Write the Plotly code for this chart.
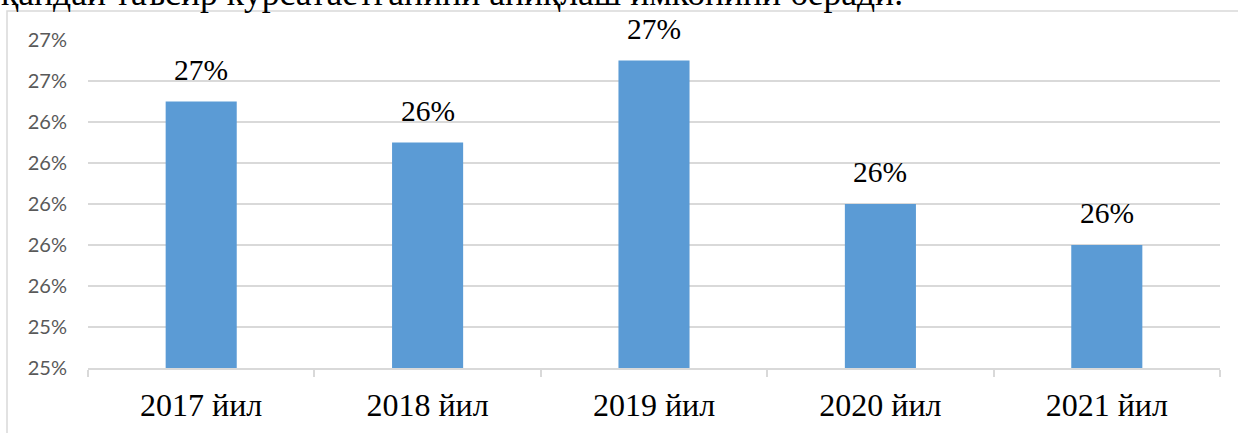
import math
import plotly.graph_objects as go

categories = ["2017 йил", "2018 йил", "2019 йил", "2020 йил", "2021 йил"]
values = [0.265, 0.263, 0.267, 0.260, 0.258]
y_min, y_max, y_step = 0.252, 0.268, 0.002
header_text = "қандай таъсир кўрсатаётганини аниқлаш имконини беради."

labels = [f"{math.floor(v * 100 + 0.5 + 1e-9):.0f}%" for v in values]

W, H = 1238, 433
ml, mr, mt, mb = 88, 18, 40, 65
pw, ph = W - ml - mr, H - mt - mb

fig = go.Figure()
fig.add_trace(go.Bar(
    x=categories, y=values,
    marker=dict(color="#5b9bd5", line=dict(width=0)),
    hoverinfo="skip",
))

serif = "Liberation Serif, Times New Roman, serif"
for c, v, t in zip(categories, values, labels):
    fig.add_annotation(x=c, y=v, text=t, showarrow=False, xanchor="center",
                       yanchor="bottom", yshift=14,
                       font=dict(family=serif, size=29.5, color="#000000"))

# header line (cut at top of picture)
fig.add_annotation(xref="paper", yref="paper", x=-ml / pw, y=(ph + mt - 14) / ph,
                   xanchor="left", yanchor="bottom", showarrow=False, borderpad=0,
                   text=header_text, font=dict(family=serif, size=35.6, color="#000000"))

# chart frame
fig.add_shape(type="rect", xref="paper", yref="paper",
              x0=(7 - ml) / pw, x1=1.2, y0=-0.5, y1=(ph + mt - 11) / ph,
              line=dict(color="#d9d9d9", width=1.5), fillcolor="rgba(0,0,0,0)", layer="below")

fig.update_layout(
    width=W, height=H,
    margin=dict(l=ml, r=mr, t=mt, b=mb, autoexpand=False),
    paper_bgcolor="white", plot_bgcolor="white",
    bargap=0.686, showlegend=False,
    xaxis=dict(showline=True, linecolor="#d9d9d9", linewidth=1.5, automargin=False,
               ticks="outside", tickson="boundaries", ticklen=7, tickcolor="#d9d9d9",
               tickwidth=1.5, ticklabelstandoff=8,
               tickfont=dict(family=serif, size=32, color="#000000"),
               showgrid=False),
    yaxis=dict(range=[y_min, y_max], tick0=y_min, dtick=y_step, tickformat=".0%",
               showgrid=True, gridcolor="#d9d9d9", gridwidth=1.5, automargin=False,
               zeroline=False, showline=False, ticks="", ticklabelstandoff=20,
               tickfont=dict(family="Lato, Open Sans, sans-serif", size=20, color="#595959")),
)

fig.write_html("out.html", config={"displayModeBar": False},
               post_script="document.body.style.margin='0';document.body.style.overflow='hidden';")
